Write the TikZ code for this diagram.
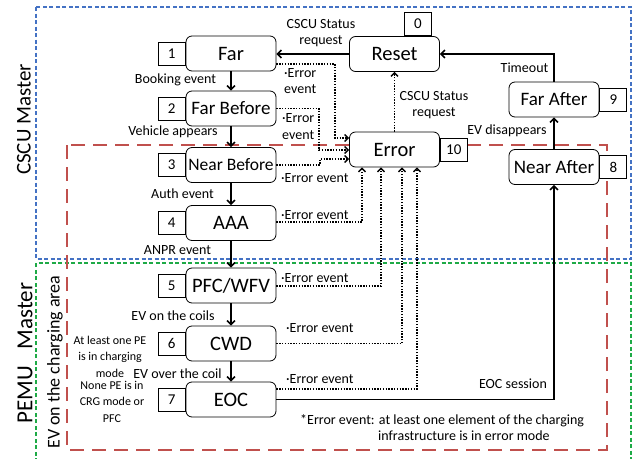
\documentclass[tikz,border=0pt]{standalone}
\usepackage{fontspec}
\setmainfont{Carlito}
\usetikzlibrary{arrows.meta,calc}
\definecolor{cblue}{RGB}{68,114,196}
\definecolor{cgreen}{RGB}{30,170,70}
\definecolor{cred}{RGB}{192,80,77}
\begin{document}
\begin{tikzpicture}[x=1pt,y=-1pt,
  st/.style={draw, rounded corners=6pt, minimum width=90pt, minimum height=35pt, inner sep=0pt, line width=0.8pt, fill=white, font=\fontsize{20.5}{23}\selectfont},
  stm/.style={st, font=\fontsize{19}{22}\selectfont},
  sts/.style={st, font=\fontsize{17.5}{21}\selectfont},
  num/.style={draw, minimum width=27pt, minimum height=23pt, inner sep=0pt, line width=0.8pt, fill=white, font=\fontsize{15}{18}\selectfont},
  lbl/.style={inner sep=0pt, align=center, font=\fontsize{14}{16.5}\selectfont},
  slbl/.style={inner sep=0pt, align=center, font=\fontsize{12}{16.5}\selectfont},
  flow/.style={line width=1.5pt, -{Straight Barb[length=4pt,width=8pt]}},
  dotline/.style={line width=1.4pt, dash pattern=on 1.4pt off 1.4pt, -{Straight Barb[length=3.5pt,width=7pt]}},
  frame/.style={line width=1.2pt}]
\useasboundingbox (0,0) rectangle (632,458);
% frames
\draw[frame, cblue, dash pattern=on 4pt off 2.5pt] (36,7) rectangle (631,259);
\draw[frame, cgreen, dash pattern=on 4pt off 2.5pt] (36,462) -- (36,263) -- (631,263) -- (631,462);
\draw[frame, cred, dash pattern=on 14pt off 8pt] (67,145) rectangle (607,450);
% side titles
\node[rotate=90, font=\fontsize{21}{24}\selectfont] (cscu) at (24,119.5) {CSCU Master};
\node[rotate=90, font=\fontsize{23}{26}\selectfont] (pemu) at (25,353) {PEMU\hspace{0.5em} Master};
\node[rotate=90, font=\fontsize{18}{20}\selectfont] (evarea) at (55,362) {EV on the charging area};
% states
\node[st] (far) at (231,53.5) {Far};
\node[stm] (farb) at (231,108.5) {Far Before};
\node[sts] (nearb) at (231,165) {Near Before};
\node[st] (aaa) at (231,223) {AAA};
\node[st] (pfc) at (231,285.5) {PFC/WFV};
\node[st] (cwd) at (231,343.5) {CWD};
\node[st] (eoc) at (231,399.5) {EOC};
\node[st] (reset) at (394.5,54) {Reset};
\node[st] (error) at (394.5,149.5) {Error};
\node[stm] (fara) at (554,99.5) {Far After};
\node[stm] (neara) at (554,167) {Near After};
% numbers
\node[num, anchor=east] (n1) at (far.west) {1};
\node[num, anchor=east] (n2) at (farb.west) {2};
\node[num, anchor=east] (n3) at (nearb.west) {3};
\node[num, anchor=east] (n4) at (aaa.west) {4};
\node[num, anchor=east] (n5) at (pfc.west) {5};
\node[num, anchor=east] (n6) at (cwd.west) {6};
\node[num, anchor=east] (n7) at (eoc.west) {7};
\node[num] (n0) at (418,24) {0};
\node[num, anchor=west] (n10) at (error.east) {10};
\node[num, anchor=west] (n9) at (fara.east) {9};
\node[num, anchor=west] (n8) at (neara.east) {8};
% solid transitions
\draw[flow] (reset.west) -- (far.east |- reset.west);
\draw[flow] (far) -- (farb);
\draw[flow] (farb) -- (nearb);
\draw[flow] (nearb) -- (aaa);
\draw[flow] (aaa) -- (pfc);
\draw[flow] (pfc) -- (cwd);
\draw[flow] (cwd) -- (eoc);
\draw[flow] (neara) -- (fara);
\draw[flow] (fara.north) |- (reset.east);
\draw[flow] (eoc.east) -| (neara.south);
% error transitions
\draw[dotline] (far.east |- 0,64) -- (335,64) -- (335,138) -- (error.west |- 0,138);
\draw[dotline] (farb.east) -- (319,108.5) -- (319,150) -- (error.west |- 0,150);
\draw[dotline] (nearb.east) -- (320,165) -- (320,159) -- (error.west |- 0,159);
\draw[dotline] (aaa.east |- 0,222) -| (error.south -| 362,0);
\draw[dotline] (pfc.east |- 0,286) -| (error.south -| 381,0);
\draw[dotline] (cwd.east) -| (error.south -| 402,0);
\draw[dotline] (eoc.east |- 0,389) -| (error.south -| 417,0);
\draw[dotline] (error) -- (reset);
% labels
\node[lbl] (l1) at (321,33) {CSCU Status\\request};
\node[lbl] (l2) at (434,105) {CSCU Status\\request};
\node[lbl] (l3) at (175.5,80) {Booking event};
\node[lbl] (l4) at (173,132) {Vehicle appears};
\node[lbl] (l5) at (182.5,194) {Auth event};
\node[lbl] (l6) at (177.5,250) {ANPR event};
\node[lbl] (l7) at (173,316) {EV on the coils};
\node[lbl] (l8) at (177.5,374) {EV over the coil};
\node[slbl] (l9) at (110,356.5) {At least one PE\\is in charging\\mode};
\node[slbl] (l10) at (112,401.5) {None PE is in\\CRG mode or\\PFC};
\node[lbl] (l11) at (507,131) {EV disappears};
\node[lbl] (l12) at (524.5,68) {Timeout};
\node[lbl] (l13) at (513,384) {EOC session};
\node[lbl, align=left, anchor=west] (e1) at (284,81) {·Error\\event};
\node[lbl, align=left, anchor=west] (e2) at (282,126.5) {·Error\\event};
\node[lbl, anchor=west] (e3) at (281,178) {·Error event};
\node[lbl, anchor=west] (e4) at (281,215) {·Error event};
\node[lbl, anchor=west] (e5) at (281,278) {·Error event};
\node[lbl, anchor=west] (e6) at (286,328) {·Error event};
\node[lbl, anchor=west] (e7) at (286,379) {·Error event};
\node[lbl, align=left, anchor=north west] (fn) at (300,414) {*Error event: at least one element of the charging\\\hspace*{78pt}infrastructure is in error mode};
\end{tikzpicture}
\end{document}
